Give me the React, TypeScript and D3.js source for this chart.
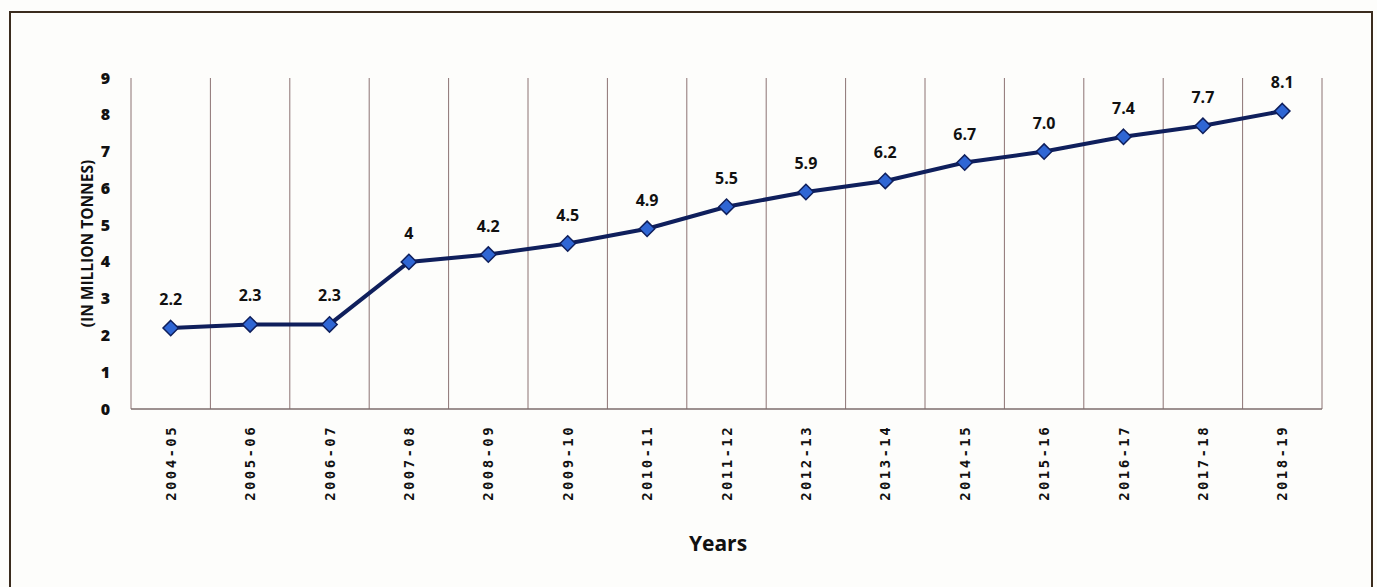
import React, { useRef, useEffect } from 'react'
import * as d3 from 'd3'

const years = ['2004-05', '2005-06', '2006-07', '2007-08', '2008-09', '2009-10', '2010-11', '2011-12', '2012-13', '2013-14', '2014-15', '2015-16', '2016-17', '2017-18', '2018-19']
const production = [2.2, 2.3, 2.3, 4, 4.2, 4.5, 4.9, 5.5, 5.9, 6.2, 6.7, 7.0, 7.4, 7.7, 8.1]
const valueLabels = ['2.2', '2.3', '2.3', '4', '4.2', '4.5', '4.9', '5.5', '5.9', '6.2', '6.7', '7.0', '7.4', '7.7', '8.1']
const yTicks = [0, 1, 2, 3, 4, 5, 6, 7, 8, 9]

const W = 1377
const H = 587
const margin = { left: 131, right: 55, top: 78, bottom: 178 }

const App: React.FC = () => {
  const svgRef = useRef<SVGSVGElement>(null)

  useEffect(() => {
    if (!svgRef.current) return
    const svg = d3.select(svgRef.current)
    svg.selectAll('*').remove()

    const x0 = margin.left
    const x1 = W - margin.right
    const y0 = H - margin.bottom
    const y1 = margin.top

    const x = d3.scaleBand<string>().domain(years).range([x0, x1])
    const y = d3.scaleLinear().domain([0, 9]).range([y0, y1])

    // 背景和外框
    svg.append('rect').attr('width', W).attr('height', H).attr('fill', '#fdfdfb')
    svg.append('rect')
      .attr('x', 10).attr('y', 12)
      .attr('width', 1362).attr('height', 600)
      .attr('fill', 'none')
      .attr('stroke', '#3b2c1e')
      .attr('stroke-width', 2)

    // 竖向网格线
    const bounds = years.map(d => x(d) as number).concat([x1])
    svg.append('g')
      .selectAll('line')
      .data(bounds)
      .join('line')
      .attr('x1', d => d).attr('x2', d => d)
      .attr('y1', y1).attr('y2', y0)
      .attr('stroke', '#8c7373')
      .attr('stroke-width', 1)

    // x 轴线
    svg.append('line')
      .attr('x1', x0).attr('x2', x1)
      .attr('y1', y0).attr('y2', y0)
      .attr('stroke', '#7d6c6c')
      .attr('stroke-width', 1.5)

    // y 轴刻度
    svg.append('g')
      .selectAll('text')
      .data(yTicks)
      .join('text')
      .attr('x', 110)
      .attr('y', d => y(d))
      .attr('dy', '0.35em')
      .attr('text-anchor', 'end')
      .attr('font-family', 'Open Sans, sans-serif')
      .attr('font-weight', 800)
      .attr('font-size', 16)
      .attr('fill', '#111')
      .text(d => d)

    // x 轴标签
    svg.append('g')
      .selectAll('text')
      .data(years)
      .join('text')
      .attr('transform', d => `translate(${(x(d) as number) + x.bandwidth() / 2 + 5},${y0 + 16}) rotate(-90)`)
      .attr('text-anchor', 'end')
      .attr('font-family', 'DejaVu Sans Mono, monospace')
      .attr('font-weight', 700)
      .attr('font-size', 14)
      .attr('letter-spacing', 2.4)
      .attr('fill', '#111')
      .text(d => d)

    // 轴标题
    svg.append('text')
      .attr('transform', `translate(93,${(y0 + y1) / 2}) rotate(-90)`)
      .attr('text-anchor', 'middle')
      .attr('font-family', 'Open Sans, sans-serif')
      .attr('font-weight', 700)
      .attr('font-size', 15.5)
      .attr('fill', '#111')
      .text('(IN MILLION TONNES)')

    svg.append('text')
      .attr('x', 718).attr('y', 551)
      .attr('text-anchor', 'middle')
      .attr('font-family', 'Open Sans, sans-serif')
      .attr('font-weight', 700)
      .attr('font-size', 21)
      .attr('fill', '#111')
      .text('Years')

    // 折线
    const cx = (i: number) => (x(years[i]) as number) + x.bandwidth() / 2
    const line = d3.line<number>()
      .x((_, i) => cx(i))
      .y(d => y(d))

    svg.append('path')
      .datum(production)
      .attr('d', line)
      .attr('fill', 'none')
      .attr('stroke', '#0f1f5c')
      .attr('stroke-width', 4)

    // 菱形标记
    const diamond = d3.symbol().type(d3.symbolDiamond2).size(150)
    svg.append('g')
      .selectAll('path')
      .data(production)
      .join('path')
      .attr('d', diamond)
      .attr('transform', (d, i) => `translate(${cx(i)},${y(d)})`)
      .attr('fill', '#2f66d4')
      .attr('stroke', '#0f1f5c')
      .attr('stroke-width', 1.5)

    // 数值标签
    svg.append('g')
      .selectAll('text')
      .data(production)
      .join('text')
      .attr('x', (_, i) => cx(i))
      .attr('y', d => y(d) - 23)
      .attr('text-anchor', 'middle')
      .attr('font-family', 'Open Sans, sans-serif')
      .attr('font-weight', 700)
      .attr('font-size', 16)
      .attr('fill', '#111')
      .text((_, i) => valueLabels[i])
  }, [])

  return (
    <svg
      ref={svgRef}
      width={W}
      height={H}
      style={{ position: 'absolute', left: 0, top: 0 }}
    />
  )
}

export default App
